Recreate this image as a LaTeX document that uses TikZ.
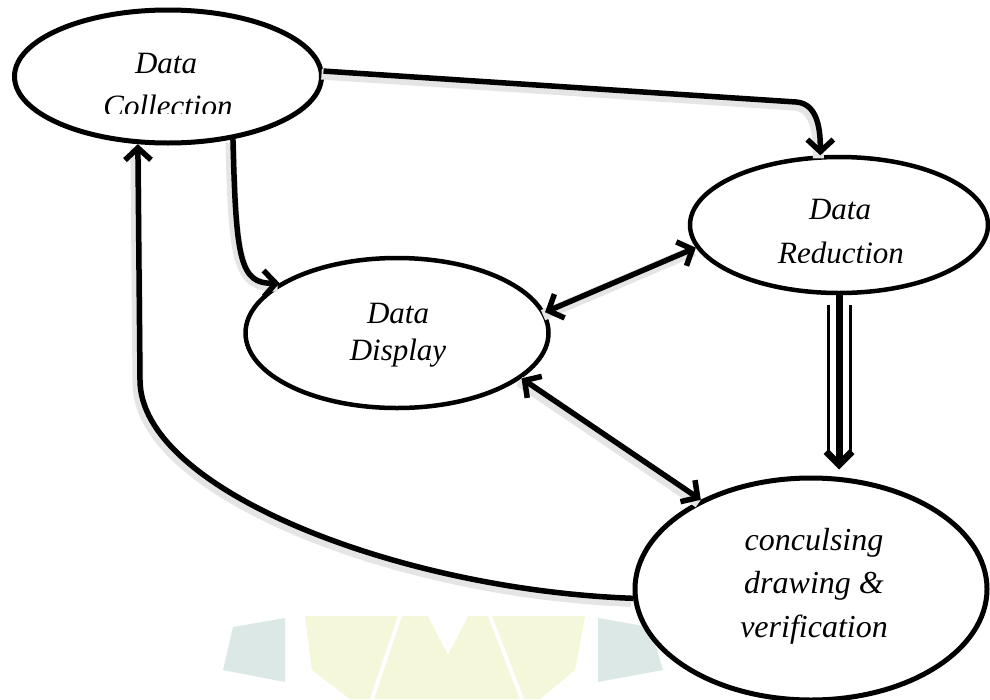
\documentclass[tikz,border=0pt]{standalone}
\usepackage{fontspec}
\setmainfont{Liberation Serif}
\usetikzlibrary{arrows.meta,shapes.geometric}
\definecolor{wmteal}{HTML}{DCE8E5}
\definecolor{wmyel}{HTML}{F4F7DA}
\begin{document}
\begin{tikzpicture}[x=1pt,y=-1pt,
  bub/.style={ellipse, draw, fill=white, line width=4.5pt, inner sep=0pt},
  lbl/.style={font=\fontsize{31}{35}\selectfont\itshape, anchor=base, inner sep=0pt},
  lblc/.style={font=\fontsize{32}{35}\selectfont\itshape, anchor=base, inner sep=0pt},
  shade/.style={preaction={draw=black!10, line width=11pt, -, transform canvas={shift={(-2pt,-3pt)}}}},
  arr/.style={line width=5.5pt, -{Straight Barb[length=12pt,width=26pt]}},
  darr/.style={line width=5.5pt, {Straight Barb[length=12pt,width=26pt]}-{Straight Barb[length=12pt,width=26pt]}},
]
\useasboundingbox (0,0) rectangle (990,699);
\clip (0,0) rectangle (990,699);
\fill[white] (0,0) rectangle (990,699);

% watermark
\fill[wmteal] (223,670) -- (233,627) -- (285,618) -- (285,682) -- cycle;
\fill[wmteal] (598,618) -- (650,627) -- (663,670) -- (598,682) -- cycle;
\fill[wmyel] (305,616) -- (585,616) -- (575,670) -- (540,699) -- (350,699) -- (312,670) -- cycle;
\draw[white, line width=4pt] (400,616) -- (372,699);
\draw[white, line width=4pt] (490,616) -- (522,699);
\fill[white] (428,616) -- (468,616) -- (448,655) -- cycle;

% ellipses
\node[bub, line width=5pt, minimum width=307pt, minimum height=133pt] (dc) at (168,76.5) {};
\node[bub, minimum width=298pt, minimum height=136pt] (dr) at (839,225) {};
\node[bub, minimum width=303pt, minimum height=150pt] (dd) at (397,333) {};
\node[bub, line width=5pt, minimum width=352pt, minimum height=222pt] (cv) at (811,589) {};

% labels
\begin{scope}
\clip (0,0) rectangle (330,113);
\node[lbl] (dct1) at (166,73) {Data};
\node[lbl] (dct2) at (168,116) {Collection};
\end{scope}
\begin{scope}
\clip (680,150) rectangle (990,262);
\node[lbl] (drt1) at (840,219) {Data};
\node[lbl] (drt2) at (841,263) {Reduction};
\end{scope}
\node[lbl] (ddt1) at (398,323) {Data};
\node[lbl] (ddt2) at (398,360) {Display};
\node[lblc] (cvt1) at (814,550) {conculsing};
\node[lblc] (cvt2) at (814,593) {drawing \&};
\node[lblc] (cvt3) at (814,637) {verification};

% connectors
\draw[arr, shade] (dc.2) -- (796,102) to[out=-4,in=90] (dr.105);
\draw[arr, shade] (dc.-44) .. controls (236,260) and (240,284) .. (dd.157);
\draw[arr, shade] (cv.183) .. controls (400,590) and (140,490) .. (140,380) -- (dc.-114);
\draw[darr, shade] (dd.8) -- (dr.189);
\draw[darr, shade] (dd.-20) -- (cv.141);

% double-line arrow
\coordinate (drb) at (dr.south |- cv.north);
\draw[line width=3pt] ([shift={(-11,10)}]dr.south) -- ([shift={(-11,-25)}]drb);
\draw[line width=3pt] ([shift={(11,10)}]dr.south) -- ([shift={(11,-25)}]drb);
\draw[line width=7pt, shorten >=6pt, -{Straight Barb[length=13pt,width=26pt]}] ([yshift=4]dr.south) -- (drb);
\end{tikzpicture}
\end{document}
